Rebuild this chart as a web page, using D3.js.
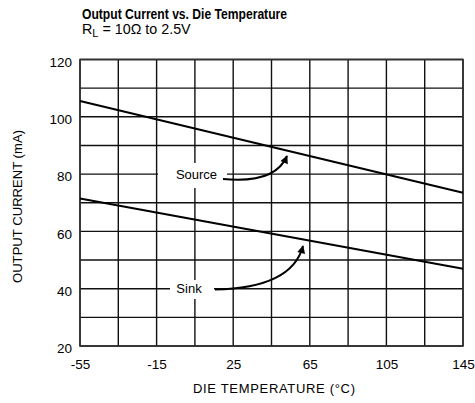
<!DOCTYPE html>
<html>
<head>
<meta charset="utf-8">
<script src="https://cdn.jsdelivr.net/npm/d3@7"></script>
<style>
  html, body { margin: 0; padding: 0; background: #fff; }
  svg { display: block; font-family: "Liberation Sans", Arial, Helvetica, sans-serif; }
</style>
</head>
<body>
<svg id="chart" width="475" height="403"></svg>
<script>
// Die temperature (°C) endpoints of the two linear curves
const temperature = [-55, 145];
// Output current (mA)
const sourceCurrent = [105.5, 73.5];
const sinkCurrent = [71.5, 47];

// Axis ticks
const xGridTicks = [-55, -35, -15, 5, 25, 45, 65, 85, 105, 125, 145];
const xLabelTicks = [-55, -15, 25, 65, 105, 145];
const yGridTicks = [20, 30, 40, 50, 60, 70, 80, 90, 100, 110, 120];
const yLabelTicks = [20, 40, 60, 80, 100, 120];

const svg = d3.select("#chart");
const plot = { left: 80, right: 463, top: 59.5, bottom: 346 };

const x = d3.scaleLinear().domain([-55, 145]).range([plot.left, plot.right]);
const y = d3.scaleLinear().domain([20, 120]).range([plot.bottom, plot.top]);

// Title block
svg.append("text")
  .attr("x", 82).attr("y", 18.5)
  .attr("font-family", "'Liberation Sans Narrow', 'Liberation Sans', Arial, sans-serif")
  .attr("font-weight", "bold").attr("font-size", 14.5)
  .attr("textLength", 205).attr("lengthAdjust", "spacingAndGlyphs")
  .text("Output Current vs.  Die Temperature");

const sub = svg.append("text").attr("x", 82).attr("y", 34).attr("font-size", 14.3);
sub.append("tspan").text("R");
sub.append("tspan").attr("dy", 3).attr("font-size", 11).text("L");
sub.append("tspan").attr("dy", -3).text(" = 10Ω to 2.5V");

// Grid
const grid = svg.append("g").attr("stroke", "#111").attr("stroke-width", 1.4);
grid.selectAll("line.v").data(xGridTicks).join("line")
  .attr("x1", d => x(d)).attr("x2", d => x(d))
  .attr("y1", plot.top).attr("y2", plot.bottom);
grid.selectAll("line.h").data(yGridTicks).join("line")
  .attr("x1", plot.left).attr("x2", plot.right)
  .attr("y1", d => y(d)).attr("y2", d => y(d));

// Frame
svg.append("rect")
  .attr("x", plot.left).attr("y", plot.top)
  .attr("width", plot.right - plot.left).attr("height", plot.bottom - plot.top)
  .attr("fill", "none").attr("stroke", "#333").attr("stroke-width", 1.6);

// Axes (labels only; the grid supplies the lines)
const xAxis = svg.append("g")
  .attr("transform", `translate(0,${plot.bottom})`)
  .call(d3.axisBottom(x).tickValues(xLabelTicks).tickSize(0).tickPadding(13).tickFormat(d => String(d)));
const yAxis = svg.append("g")
  .attr("transform", `translate(${plot.left},0)`)
  .call(d3.axisLeft(y).tickValues(yLabelTicks).tickSize(0).tickPadding(8).tickFormat(d => String(d)));
[xAxis, yAxis].forEach(g => {
  g.select(".domain").remove();
  g.selectAll("text").attr("font-size", 13.5).attr("fill", "#000")
    .attr("font-family", "'Liberation Sans', Arial, sans-serif");
});
yAxis.selectAll("text").attr("dy", "0.5em");

// Axis titles
svg.append("text")
  .attr("x", 274).attr("y", 393).attr("text-anchor", "middle").attr("font-size", 13)
  .attr("textLength", 162).attr("lengthAdjust", "spacing")
  .text("DIE TEMPERATURE (°C)");
svg.append("text")
  .attr("transform", "translate(22,206.5) rotate(-90)")
  .attr("text-anchor", "middle").attr("font-size", 13)
  .attr("textLength", 153).attr("lengthAdjust", "spacing")
  .text("OUTPUT CURRENT (mA)");

// Data curves
const line = d3.line().x(d => x(d[0])).y(d => y(d[1]));
[sourceCurrent, sinkCurrent].forEach(series => {
  svg.append("path")
    .datum(temperature.map((t, i) => [t, series[i]]))
    .attr("d", line)
    .attr("fill", "none").attr("stroke", "#000").attr("stroke-width", 2);
});

// Curve labels with callout arrows
svg.append("defs").append("marker")
  .attr("id", "head").attr("viewBox", "0 0 10 10")
  .attr("refX", 9).attr("refY", 5)
  .attr("markerWidth", 9).attr("markerHeight", 8)
  .attr("markerUnits", "userSpaceOnUse")
  .attr("orient", "auto")
  .append("path").attr("d", "M0,0 L10,5 L0,10 Z").attr("fill", "#000");

const callouts = [
  { text: "Source", box: [158, 163, 69, 25], tx: 196.5, ty: 179,
    path: "M223,179 Q275,184 287,156" },
  { text: "Sink", box: [170, 280, 44, 19], tx: 189, ty: 292.5,
    path: "M215,289.5 Q292,288 303,246" }
];
callouts.forEach(c => {
  svg.append("rect")
    .attr("x", c.box[0]).attr("y", c.box[1]).attr("width", c.box[2]).attr("height", c.box[3])
    .attr("fill", "#fff");
  svg.append("text")
    .attr("x", c.tx).attr("y", c.ty).attr("text-anchor", "middle").attr("font-size", 13)
    .text(c.text);
  svg.append("path")
    .attr("d", c.path).attr("fill", "none").attr("stroke", "#000").attr("stroke-width", 2)
    .attr("marker-end", "url(#head)");
});
</script>
</body>
</html>
